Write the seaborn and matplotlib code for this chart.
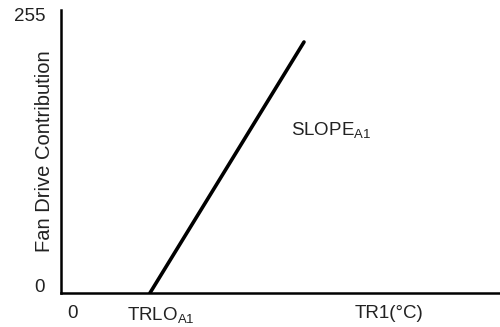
import matplotlib
matplotlib.use("Agg")
import matplotlib.pyplot as plt
import matplotlib.transforms as mtransforms
import pandas as pd
import seaborn as sns

# Fan drive transfer curve: zero below TRLO, then rising along SLOPE
temp = [20, 60]          # TR1 (arbitrary units), TRLO at 20
drive = [0, 229.8]       # fan drive contribution
y_ticks = [0, 255]
y_tick_labels = ["0", "255"]
x_ticks = [0, 20, 82]
x_tick_labels = ["0", "TRLO$_{\\mathregular{A1}}$", "TR1(°C)"]

sns.set_theme(style="white")
plt.rcParams["font.family"] = ["Liberation Sans", "DejaVu Sans"]
plt.rcParams["mathtext.fontset"] = "custom"
plt.rcParams["mathtext.rm"] = "Liberation Sans"

text_color = "#222222"
fs = 13.5

fig = plt.figure(figsize=(5.0, 3.27), dpi=100)
W, H = 500, 327
ax = fig.add_axes([61 / W, (H - 293) / H, (W - 61) / W, (293 - 10) / H])

df = pd.DataFrame({"temp": temp, "drive": drive})
sns.lineplot(data=df, x="temp", y="drive", ax=ax, color="black", lw=2.6)

ax.set_xlim(-3.1, 110.9)
ax.set_ylim(0, 259.1)

for side in ("top", "right"):
    ax.spines[side].set_visible(False)
for side in ("left", "bottom"):
    ax.spines[side].set_visible(True)
    ax.spines[side].set_color("black")
    ax.spines[side].set_linewidth(1.8)

ax.set_yticks(y_ticks)
ax.set_yticklabels(y_tick_labels)
ax.set_xticks(x_ticks)
ax.set_xticklabels(x_tick_labels)
ax.tick_params(axis="both", length=0, labelsize=fs, colors=text_color)
ax.tick_params(axis="x", pad=9)
ax.tick_params(axis="y", pad=11.5)


def shift_label(lbl, dx_px, dy_px):
    lbl.set_transform(lbl.get_transform() +
                      mtransforms.ScaledTranslation(dx_px / 100, dy_px / 100,
                                                    fig.dpi_scale_trans))


# lift the "0" label slightly above the axis line
shift_label(ax.get_yticklabels()[0], 0, 8)
# centre the TRLO label a little to the right of the threshold point
shift_label(ax.get_xticklabels()[1], 11, 0)

ax.set_xlabel("")
ax.set_ylabel("Fan Drive Contribution", fontsize=14.5, color=text_color)
ax.yaxis.set_label_coords(-0.0376, 0.502)
ax.yaxis.label.set_verticalalignment("center")

ax.text(56.6, 143.7, "SLOPE$_{\\mathregular{A1}}$", fontsize=fs, color=text_color,
        ha="left", va="baseline")

fig.savefig("out.png", dpi=100)
